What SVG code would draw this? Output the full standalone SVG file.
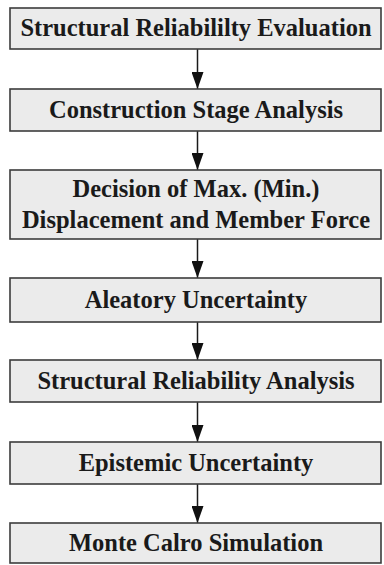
<svg xmlns="http://www.w3.org/2000/svg" width="384" height="565" viewBox="0 0 384 565">
  <style>
    .box { fill: #ebebeb; stroke: #3c3c3c; stroke-width: 1.6; }
    .lbl { font-family: 'Liberation Serif', 'Times New Roman', Times, serif; font-weight: 700; font-size: 24.5px; fill: #1a1a1a; text-anchor: middle; }
    .conn { stroke: #1a1a1a; stroke-width: 1.5; fill: none; marker-end: url(#arr); }
  </style>
  <defs>
    <marker id="arr" markerUnits="userSpaceOnUse" markerWidth="18" markerHeight="12" refX="17" refY="6" orient="auto" viewBox="0 0 18 12">
      <path d="M0,0 L17,6 L0,12 Z" fill="#111"/>
    </marker>
  </defs>
  <rect width="384" height="565" fill="#ffffff"/>
  <g id="connectors">
    <line class="conn" x1="197.5" y1="49" x2="197.5" y2="89"/>
    <line class="conn" x1="197.5" y1="131" x2="197.5" y2="170"/>
    <line class="conn" x1="197.5" y1="239" x2="197.5" y2="278"/>
    <line class="conn" x1="197.5" y1="322" x2="197.5" y2="360"/>
    <line class="conn" x1="197.5" y1="402" x2="197.5" y2="442"/>
    <line class="conn" x1="197.5" y1="484" x2="197.5" y2="523"/>
  </g>
  <g id="n1">
    <rect class="box" x="10" y="8" width="371" height="41"/>
    <text class="lbl" x="196" y="36">Structural Reliabililty Evaluation</text>
  </g>
  <g id="n2">
    <rect class="box" x="10" y="89" width="371" height="42"/>
    <text class="lbl" x="196" y="118">Construction Stage Analysis</text>
  </g>
  <g id="n3">
    <rect class="box" x="10" y="170" width="371" height="69"/>
    <text class="lbl" x="196" y="196.5">Decision of Max. (Min.)</text>
    <text class="lbl" x="196" y="227.5">Displacement and Member Force</text>
  </g>
  <g id="n4">
    <rect class="box" x="10" y="278" width="371" height="44"/>
    <text class="lbl" x="196" y="308">Aleatory Uncertainty</text>
  </g>
  <g id="n5">
    <rect class="box" x="10" y="360" width="371" height="42"/>
    <text class="lbl" x="196" y="388.5">Structural Reliability Analysis</text>
  </g>
  <g id="n6">
    <rect class="box" x="10" y="442" width="371" height="42"/>
    <text class="lbl" x="196" y="470.5">Epistemic Uncertainty</text>
  </g>
  <g id="n7">
    <rect class="box" x="10" y="523" width="371" height="40"/>
    <text class="lbl" x="196" y="550.5">Monte Calro Simulation</text>
  </g>
</svg>
